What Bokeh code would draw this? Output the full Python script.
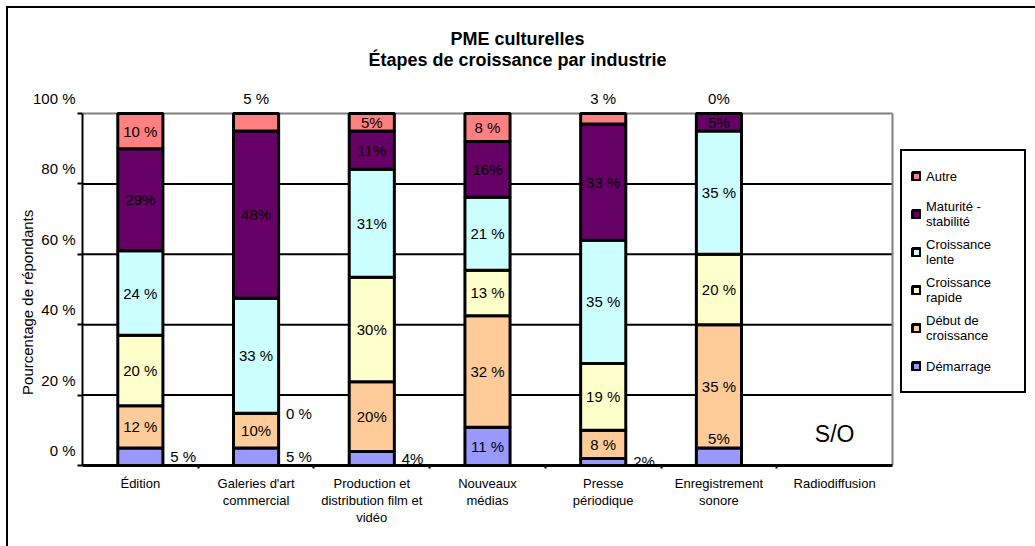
import numpy as np
import pandas as pd
from bokeh.plotting import figure
from bokeh.models import (ColumnDataSource, Range1d, Legend, LegendItem,
                          LabelSet, Label, FixedTicker, LinearAxis)
from bokeh.core.properties import value
from bokeh.embed import file_html
from bokeh.resources import INLINE

# ---------------- data ----------------
categories = ["Édition", "Galeries d'art\ncommercial",
              "Production et\ndistribution film et\nvidéo", "Nouveaux\nmédias",
              "Presse\npériodique", "Enregistrement\nsonore", "Radiodiffusion"]
series = ["Démarrage", "Début de croissance", "Croissance rapide",
          "Croissance lente", "Maturité - stabilité", "Autre"]
legend_labels = ["Démarrage", "Début de\ncroissance", "Croissance\nrapide",
                 "Croissance\nlente", "Maturité -\nstabilité", "Autre"]

demarrage = [5, 5, 4, 11, 2, 5, 0]
debut = [12, 10, 20, 32, 8, 35, 0]
rapide = [20, 0, 30, 13, 19, 20, 0]
lente = [24, 33, 31, 21, 35, 35, 0]
maturite = [29, 48, 11, 16, 33, 5, 0]
autre = [10, 5, 5, 8, 3, 0, 0]

lbl_demarrage = ["5 %", "5 %", "4%", "11 %", "2%", "5%", ""]
lbl_debut = ["12 %", "10%", "20%", "32 %", "8 %", "35 %", ""]
lbl_rapide = ["20 %", "0 %", "30%", "13 %", "19 %", "20 %", ""]
lbl_lente = ["24 %", "33 %", "31%", "21 %", "35 %", "35 %", ""]
lbl_maturite = ["29%", "48%", "11%", "16%", "33 %", "5%", ""]
lbl_autre = ["10 %", "5 %", "5%", "8 %", "3 %", "0%", ""]

y_ticks = [0, 20, 40, 60, 80, 100]
y_tick_labels = ["0 %", "20 %", "40 %", "60 %", "80 %", "100 %"]

na_category = "Radiodiffusion"
na_text = "S/O"

title_lines = ["PME culturelles", "Étapes de croissance par industrie"]
y_title = "Pourcentage de répondants"

# ---------------- styles / geometry ----------------
colors = ["#9999FF", "#FFCC99", "#FFFFCC", "#CCFFFF", "#660066", "#FF8080"]
FONT = "Liberation Sans"
W, H = 1035, 546
FRAME_LEFT, PLOT_RIGHT = 82, 892
FRAME_TOP, PLOT_TOP, AXIS_Y = 22, 113, 465
PXU = (AXIS_Y - PLOT_TOP) / 100.0          # pixels per percent
Y_END = (AXIS_Y - FRAME_TOP) / PXU
LBL_SHIFT = 15 / PXU                       # tick labels drawn 15px above their lines
n = len(categories)
PXC = (PLOT_RIGHT - FRAME_LEFT) / n        # pixels per category
X_END = (W - FRAME_LEFT) / PXC
YTITLE_CENTER = 301                        # vertical centre of the y-axis title (px)
# the axis title is centred on the whole frame: pad its end to move it down
pad = int(round(2 * (YTITLE_CENTER - (FRAME_TOP + AXIS_Y) / 2) / (0.278 * 15)))

label_place = {
    ("Démarrage", 0): "right", ("Démarrage", 1): "right",
    ("Démarrage", 2): "right", ("Démarrage", 4): "right",
    ("Démarrage", 5): "over",
    ("Croissance rapide", 1): "right",
    ("Autre", 1): "above", ("Autre", 4): "above", ("Autre", 5): "above",
}

# ---------------- build ----------------
values = [demarrage, debut, rapide, lente, maturite, autre]
texts = [lbl_demarrage, lbl_debut, lbl_rapide, lbl_lente, lbl_maturite, lbl_autre]
df = pd.DataFrame({s: v for s, v in zip(series, values)}, index=categories)
tot = df.sum(axis=1).replace(0, np.nan)
norm = df.div(tot, axis=0).fillna(0) * 100

xpos = [i + 0.5 for i in range(n)]
xmap = dict(zip(categories, xpos))
src = ColumnDataSource(dict(x=xpos, **{s: norm[s].tolist() for s in series}))

p = figure(x_range=Range1d(0, X_END), y_range=Range1d(0, Y_END),
           width=W, height=H, output_backend="svg", toolbar_location=None,
           y_axis_location=None, x_axis_location=None,
           min_border_left=FRAME_LEFT, min_border_right=0,
           min_border_top=FRAME_TOP, min_border_bottom=H - AXIS_Y)
p.extra_y_ranges = {"lbl": Range1d(-LBL_SHIFT, Y_END - LBL_SHIFT)}
p.styles = {
    "background-image": "linear-gradient(#000,#000), linear-gradient(#000,#000)",
    "background-size": "2px 100%, 100% 2px",
    "background-position": "6px 6px, 6px 6px",
    "background-repeat": "no-repeat",
}
p.background_fill_color = "white"
p.border_fill_color = None
p.outline_line_color = None
p.xgrid.visible = False
p.ygrid.visible = False

# horizontal grid lines across the plot area only
p.segment(x0=[0] * (len(y_ticks) - 2), x1=[n] * (len(y_ticks) - 2),
          y0=y_ticks[1:-1], y1=y_ticks[1:-1], line_color="black", line_width=2)
# plot-area border (grey top and right)
p.segment(x0=[0, n], y0=[y_ticks[-1], 0], x1=[n, n], y1=[y_ticks[-1], y_ticks[-1]],
          line_color="#808080", line_width=2)

renderers = p.vbar_stack(series, x="x", width=0.39, color=colors, source=src,
                         line_color="black", line_width=3)

# y axis: ticks + line
tick_axis = LinearAxis(ticker=FixedTicker(ticks=y_ticks), bounds=(0, y_ticks[-1]))
tick_axis.major_label_text_font_size = "1px"
tick_axis.major_label_text_color = None
tick_axis.major_label_standoff = 0
tick_axis.major_tick_out = 5
tick_axis.major_tick_in = 0
tick_axis.major_tick_line_width = 2
tick_axis.major_tick_line_color = "black"
tick_axis.minor_tick_line_color = None
tick_axis.axis_line_width = 2
tick_axis.axis_line_color = "black"
p.add_layout(tick_axis, "left")

# y axis: labels (shifted up)
label_axis = LinearAxis(y_range_name="lbl", ticker=FixedTicker(ticks=y_ticks),
                        major_label_overrides={v: t for v, t in zip(y_ticks, y_tick_labels)})
label_axis.axis_line_color = None
label_axis.major_tick_line_color = None
label_axis.minor_tick_line_color = None
label_axis.major_tick_out = 0
label_axis.major_tick_in = 0
label_axis.major_label_standoff = 2
label_axis.major_label_text_font = FONT
label_axis.major_label_text_font_size = "15px"
label_axis.major_label_text_color = "black"
p.add_layout(label_axis, "left")

# y axis: title
title_axis = LinearAxis(ticker=FixedTicker(ticks=[]))
title_axis.axis_line_color = None
title_axis.major_tick_line_color = None
title_axis.minor_tick_line_color = None
title_axis.major_label_text_font_size = "1px"
title_axis.major_label_text_color = None
title_axis.axis_label = y_title + "\u00a0" * pad
title_axis.axis_label_standoff = -6
title_axis.axis_label_text_font = FONT
title_axis.axis_label_text_font_size = "15px"
title_axis.axis_label_text_font_style = "normal"
title_axis.axis_label_text_color = "black"
p.add_layout(title_axis, "left")

# x axis (categories)
x_axis = LinearAxis(ticker=FixedTicker(ticks=xpos, minor_ticks=list(range(1, n))),
                    bounds=(0, n),
                    major_label_overrides={x: c for x, c in zip(xpos, categories)})
x_axis.axis_line_width = 3
x_axis.axis_line_color = "black"
x_axis.major_tick_line_color = None
x_axis.minor_tick_line_color = "black"
x_axis.minor_tick_line_width = 2
x_axis.minor_tick_out = 3
x_axis.minor_tick_in = 0
x_axis.major_tick_out = 0
x_axis.major_tick_in = 0
x_axis.major_label_text_font = FONT
x_axis.major_label_text_font_size = "13px"
x_axis.major_label_text_line_height = 1.15
x_axis.major_label_text_color = "black"
x_axis.major_label_standoff = 7
p.add_layout(x_axis, "below")

# title (inside the frame's upper band)
for i, t in enumerate(title_lines):
    p.add_layout(Label(x=0, y=y_ticks[-1], x_offset=517 - FRAME_LEFT,
                       y_offset=(PLOT_TOP - 38) - 21 * i, text=t,
                       text_align="center", text_baseline="middle", text_font=FONT,
                       text_font_size="18px", text_font_style="bold", text_color="black"))

# data labels
c_rows = dict(x=[], y=[], text=[], yo=[])
r_rows = dict(x=[], y=[], text=[], yo=[])
for j, cat in enumerate(categories):
    bottom = 0.0
    for i, s in enumerate(series):
        h = norm.loc[cat, s]
        top = bottom + h
        t = texts[i][j]
        if t:
            mode = label_place.get((s, j), "center")
            if mode == "right":
                r_rows["x"].append(xmap[cat]); r_rows["y"].append((bottom + top) / 2)
                r_rows["text"].append(t); r_rows["yo"].append(0)
            else:
                if mode == "center":
                    y, yo = (bottom + top) / 2, 0
                elif mode == "above":
                    y, yo = top, 15
                else:  # "over"
                    y, yo = top, 9
                c_rows["x"].append(xmap[cat]); c_rows["y"].append(y)
                c_rows["text"].append(t); c_rows["yo"].append(yo)
        bottom = top

p.add_layout(LabelSet(x="x", y="y", text="text", y_offset="yo", source=ColumnDataSource(c_rows),
                      text_align="center", text_baseline="middle", text_font=value(FONT),
                      text_font_size="15px", text_color="black"))
p.add_layout(LabelSet(x="x", y="y", text="text", y_offset="yo", x_offset=30,
                      source=ColumnDataSource(r_rows),
                      text_align="left", text_baseline="middle", text_font=value(FONT),
                      text_font_size="15px", text_color="black"))

# S/O
p.text(x=[xmap[na_category]], y=[9], text=[na_text], text_align="center",
       text_baseline="middle", text_font=value(FONT), text_font_size="23px",
       text_color="black")

# legend
items = [LegendItem(label=legend_labels[i], renderers=[renderers[i]])
         for i in reversed(range(len(series)))]
legend = Legend(items=items, location=(900 - FRAME_LEFT, AXIS_Y - 393), orientation="vertical",
                border_line_color="black", border_line_width=2, border_line_alpha=1.0,
                background_fill_color="white", background_fill_alpha=1.0,
                padding=9, spacing=6, label_height=32,
                label_width=89, glyph_width=10, glyph_height=10, label_standoff=5,
                label_text_font=FONT, label_text_font_size="13px", label_text_color="black",
                margin=0)
p.add_layout(legend, "center")

open("out.html", "w").write(file_html(p, INLINE))
